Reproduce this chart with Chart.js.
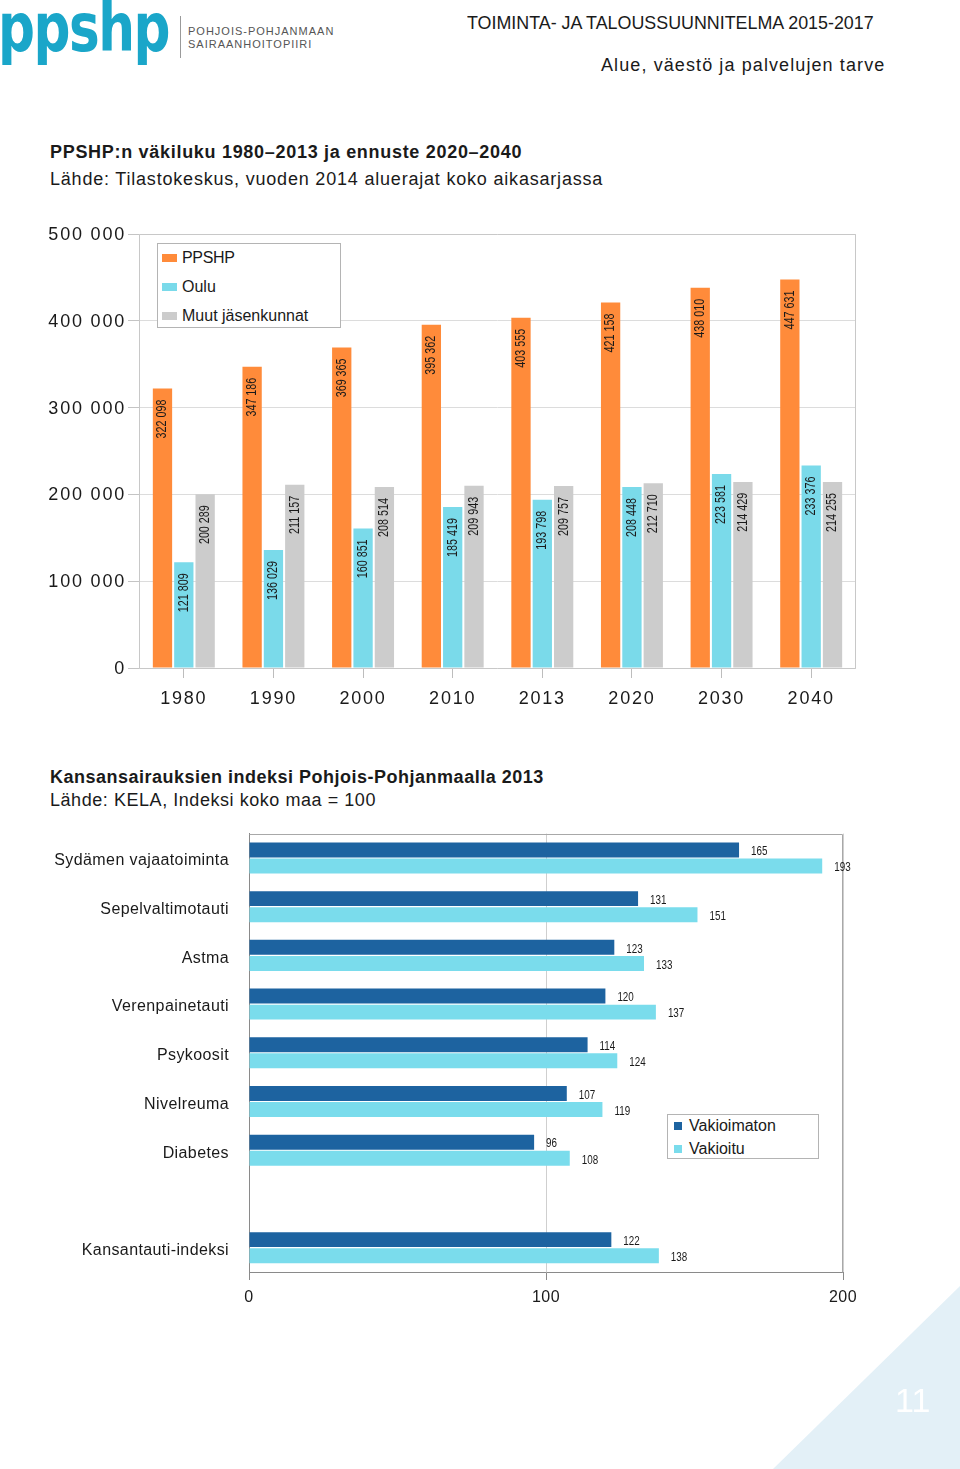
<!DOCTYPE html>
<html><head><meta charset="utf-8">
<script src="https://cdn.jsdelivr.net/npm/chart.js@4.4.1/dist/chart.umd.min.js"></script>
<style>
html,body{margin:0;padding:0}
body{width:960px;height:1469px;position:relative;overflow:hidden;background:#fff;font-family:"Liberation Sans",Arial,sans-serif;color:#1a1a1a}
.t{position:absolute;white-space:nowrap;line-height:1}
.cv{position:absolute}
.lg{position:absolute;background:#fff;border:1px solid #b4b4b4;box-sizing:border-box}
.sw{position:absolute}
</style></head><body>

<div class="t" style="left:-2px;top:-6px;font-family:'DejaVu Sans',sans-serif;font-size:68px;font-weight:bold;color:#1aa6c9;transform:scaleX(0.76);transform-origin:left top;letter-spacing:-2px">ppshp</div>
<div style="position:absolute;left:180px;top:16px;width:1px;height:42px;background:#9a9a9a"></div>
<div class="t" style="left:188px;top:26px;font-size:11px;letter-spacing:1px;color:#555">POHJOIS-POHJANMAAN</div>
<div class="t" style="left:188px;top:39px;font-size:11px;letter-spacing:1px;color:#555">SAIRAANHOITOPIIRI</div>

<div class="t" style="left:467px;top:13px;font-size:19px;transform:scaleX(0.94);transform-origin:left top">TOIMINTA- JA TALOUSSUUNNITELMA 2015-2017</div>
<div class="t" style="left:601px;top:56px;font-size:18px;letter-spacing:1.1px">Alue, väestö ja palvelujen tarve</div>

<div class="t" style="left:50px;top:143px;font-size:18px;font-weight:bold;letter-spacing:0.7px">PPSHP:n väkiluku 1980–2013 ja ennuste 2020–2040</div>
<div class="t" style="left:50px;top:170px;font-size:18px;letter-spacing:0.8px">Lähde: Tilastokeskus, vuoden 2014 aluerajat koko aikasarjassa</div>

<div class="cv" style="left:0;top:210px"><canvas id="c1" width="900" height="510"></canvas></div>

<div class="lg" style="left:157px;top:243px;width:184px;height:85px"></div>
<div class="sw" style="left:162px;top:254px;width:15px;height:8px;background:#ff8b3a"></div>
<div class="t" style="left:182px;top:250px;font-size:16px;letter-spacing:-0.3px">PPSHP</div>
<div class="sw" style="left:162px;top:283px;width:15px;height:8px;background:#7adaea"></div>
<div class="t" style="left:182px;top:279px;font-size:16px">Oulu</div>
<div class="sw" style="left:162px;top:312px;width:15px;height:8px;background:#cccccc"></div>
<div class="t" style="left:182px;top:308px;font-size:16px">Muut jäsenkunnat</div>

<div class="t" style="left:50px;top:768px;font-size:18px;font-weight:bold;letter-spacing:0.5px">Kansansairauksien indeksi Pohjois-Pohjanmaalla 2013</div>
<div class="t" style="left:50px;top:791px;font-size:18px;letter-spacing:0.55px">Lähde: KELA, Indeksi koko maa = 100</div>

<div class="cv" style="left:0;top:804px"><canvas id="c2" width="960" height="514"></canvas></div>

<div class="lg" style="left:667px;top:1114px;width:152px;height:45px"></div>
<div class="sw" style="left:674px;top:1122px;width:8px;height:8px;background:#1d63a0"></div>
<div class="t" style="left:689px;top:1118px;font-size:16px">Vakioimaton</div>
<div class="sw" style="left:674px;top:1145px;width:8px;height:8px;background:#7adcec"></div>
<div class="t" style="left:689px;top:1141px;font-size:16px">Vakioitu</div>

<div style="position:absolute;left:773px;top:1286px;width:187px;height:183px;background:#e3f0f7;clip-path:polygon(100% 0,100% 100%,0 100%)"></div>
<div class="t" style="left:895px;top:1383px;font-size:34px;color:#fff">11</div>

<script>
const years = ['1980','1990','2000','2010','2013','2020','2030','2040'];
const ppshp = [322098,347186,369365,395362,403555,421158,438010,447631];
const oulu  = [121809,136029,160851,185419,193798,208448,223581,233376];
const muut  = [200289,211157,208514,209943,209757,212710,214429,214255];
const popMax = 500000;
const popStep = 100000;

const diseases = ['Sydämen vajaatoiminta','Sepelvaltimotauti','Astma','Verenpainetauti','Psykoosit','Nivelreuma','Diabetes','','Kansantauti-indeksi'];
const vakioimaton = [165,131,123,120,114,107,96,null,122];
const vakioitu    = [193,151,133,137,124,119,108,null,138];
const idxMax = 200;
const idxStep = 100;

const FONT = '"Liberation Sans", Arial, sans-serif';
const fmt = n => String(n).replace(/\B(?=(\d{3})+(?!\d))/g, ' ');

const spacingPlugin = {
  id: 'spacing',
  beforeDraw(chart, a, opts) { chart.ctx.letterSpacing = opts.value || '0px'; },
  beforeDatasetsDraw(chart) { chart.ctx.letterSpacing = '0px'; }
};

const boxPlugin = {
  id: 'box',
  beforeDatasetsDraw(chart, a, opts) {
    const {left, top, right, bottom} = chart.chartArea;
    const ctx = chart.ctx;
    ctx.save();
    ctx.strokeStyle = opts.color;
    ctx.lineWidth = 1;
    ctx.beginPath();
    const L = Math.round(left) + 0.5, T = Math.round(top) + 0.5, R = Math.round(right) - 0.5, B = Math.round(bottom) + 0.5;
    if (opts.sides.includes('t')) { ctx.moveTo(L, T); ctx.lineTo(R, T); }
    if (opts.sides.includes('r')) { ctx.moveTo(R, T); ctx.lineTo(R, B); }
    if (opts.sides.includes('l')) { ctx.moveTo(L, T); ctx.lineTo(L, B); }
    if (opts.sides.includes('b')) { ctx.moveTo(L, B); ctx.lineTo(R, B); }
    ctx.stroke();
    ctx.restore();
  }
};

const labelPlugin = {
  id: 'vals',
  afterDatasetsDraw(chart, a, opts) {
    const ctx = chart.ctx;
    chart.data.datasets.forEach((ds, i) => {
      const meta = chart.getDatasetMeta(i);
      meta.data.forEach((bar, j) => {
        const v = ds.data[j];
        if (v == null) return;
        ctx.save();
        ctx.letterSpacing = '0px';
        ctx.fillStyle = '#1a1a1a';
        if (opts.mode === 'vertical') {
          ctx.font = '14px ' + FONT;
          ctx.translate(bar.x, bar.y + 11);
          ctx.rotate(-Math.PI / 2);
          ctx.scale(0.77, 1);
          ctx.textAlign = 'right';
          ctx.textBaseline = 'middle';
          ctx.fillText(fmt(v), 0, 0);
        } else {
          ctx.font = '12px ' + FONT;
          ctx.translate(bar.x + 12, bar.y + 2);
          ctx.scale(0.82, 1);
          ctx.textAlign = 'left';
          ctx.textBaseline = 'middle';
          ctx.fillText(String(v), 0, 0);
        }
        ctx.restore();
      });
    });
  }
};

new Chart(document.getElementById('c1'), {
  type: 'bar',
  data: {
    labels: years,
    datasets: [
      {label: 'PPSHP', data: ppshp, backgroundColor: '#ff8b3a'},
      {label: 'Oulu', data: oulu, backgroundColor: '#7adaea'},
      {label: 'Muut jäsenkunnat', data: muut, backgroundColor: '#cccccc'}
    ]
  },
  options: {
    responsive: false,
    animation: false,
    events: [],
    datasets: {bar: {barPercentage: 0.905, categoryPercentage: 0.714}},
    layout: {padding: {left: 0, top: 24, right: 44, bottom: 10}},
    plugins: {
      legend: {display: false},
      tooltip: {enabled: false},
      spacing: {value: '1.8px'},
      box: {color: '#c8c8c8', sides: 'tlrb'},
      vals: {mode: 'vertical'}
    },
    scales: {
      x: {
        grid: {display: true, drawOnChartArea: false, drawTicks: true, tickLength: 10, offset: false, color: '#bdbdbd', tickColor: '#bdbdbd'},
        border: {display: false},
        ticks: {font: {size: 18, family: FONT}, color: '#1a1a1a', padding: 10},
        afterFit(s) { s.height = 42; }
      },
      y: {
        min: 0, max: popMax,
        ticks: {stepSize: popStep, callback: v => fmt(v), font: {size: 18, family: FONT}, color: '#1a1a1a', padding: 2, labelOffset: 1},
        grid: {color: '#dcdcdc', tickLength: 11, tickColor: '#c4c4c4'},
        border: {display: false},
        afterFit(s) { s.width = 139; }
      }
    }
  },
  plugins: [spacingPlugin, boxPlugin, labelPlugin]
});

new Chart(document.getElementById('c2'), {
  type: 'bar',
  data: {
    labels: diseases,
    datasets: [
      {label: 'Vakioimaton', data: vakioimaton, backgroundColor: '#1d63a0'},
      {label: 'Vakioitu', data: vakioitu, backgroundColor: '#7adcec'}
    ]
  },
  options: {
    indexAxis: 'y',
    responsive: false,
    animation: false,
    events: [],
    datasets: {bar: {barPercentage: 0.93, categoryPercentage: 0.66}},
    layout: {padding: {left: 0, top: 0, right: 117, bottom: 6}},
    plugins: {
      legend: {display: false},
      tooltip: {enabled: false},
      spacing: {value: '0.4px'},
      box: {color: '#a8a8a8', sides: 'tr'},
      vals: {mode: 'horizontal'}
    },
    scales: {
      x: {
        min: 0, max: idxMax,
        ticks: {stepSize: idxStep, font: {size: 16, family: FONT}, color: '#1a1a1a', padding: 8},
        grid: {color: c => (c.tick && c.tick.value === 0) ? 'rgba(0,0,0,0)' : '#cfcfcf', tickLength: 8, tickColor: '#8a8a8a'},
        border: {display: true, color: '#8a8a8a'},
        afterFit(s) { s.height = 40; }
      },
      y: {
        grid: {display: false, drawTicks: false},
        border: {display: true, color: '#8a8a8a'},
        ticks: {font: {size: 16, family: FONT}, color: '#1a1a1a', padding: 20, labelOffset: 3},
        afterFit(s) { s.width = 249; }
      }
    }
  },
  plugins: [spacingPlugin, boxPlugin, labelPlugin]
});
</script>
</body></html>
